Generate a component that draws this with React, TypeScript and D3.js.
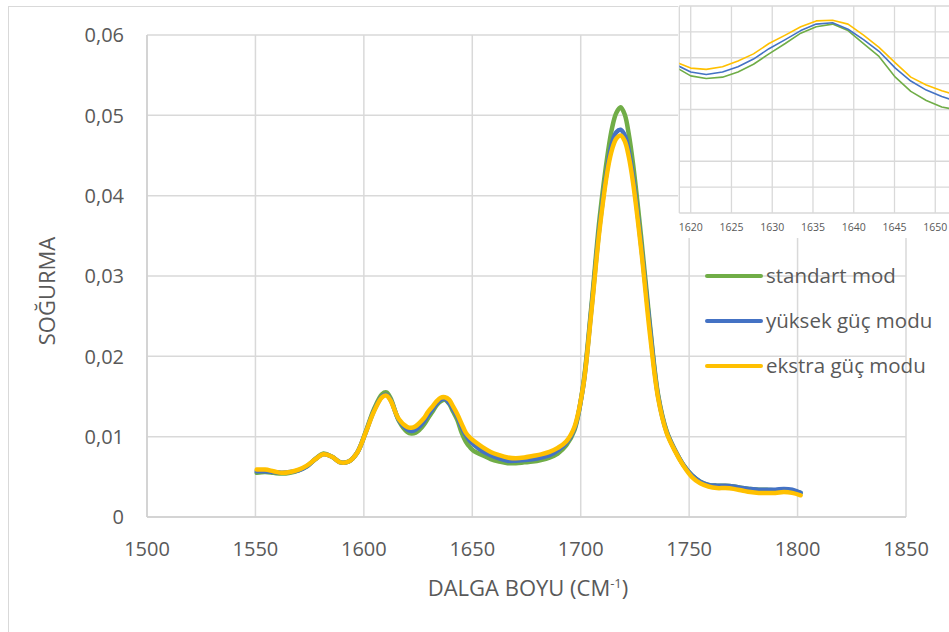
import React from "react";
import * as d3 from "d3";

// Wavenumber grid (cm-1) shared by all three spectra
const waves = [
  1550.6, 1554.4, 1558.3, 1562.1, 1566.0, 1569.9, 1573.7, 1577.6, 1581.4, 1585.3,
  1589.2, 1593.0, 1596.9, 1600.7, 1604.6, 1608.4, 1610.4, 1612.3, 1616.1,
  1620.0, 1621.9, 1623.9, 1625.8, 1627.7, 1629.6, 1631.6, 1633.5, 1635.4, 1637.4,
  1639.3, 1641.2, 1643.1, 1645.1, 1647.0, 1648.9, 1650.8,
  1654.7, 1658.5, 1662.4, 1666.3, 1670.1, 1674.0, 1677.8, 1681.7, 1685.6, 1689.4,
  1693.3, 1697.1, 1701.0, 1704.9, 1708.7, 1712.6, 1714.5, 1716.4, 1718.4, 1720.3,
  1722.2, 1724.2, 1728.0, 1731.9, 1735.7, 1739.6, 1743.5, 1747.3, 1751.2, 1755.1,
  1758.9, 1762.8, 1766.6, 1770.5, 1774.4, 1778.2, 1782.1, 1785.9, 1789.8, 1793.7,
  1797.5, 1801.4,
];

const standart = [
  0.0055, 0.0056, 0.0055, 0.0054, 0.0055, 0.0058, 0.0063, 0.0072, 0.0079, 0.0075,
  0.0068, 0.0069, 0.0080, 0.0105, 0.0134, 0.0153, 0.0155, 0.0148, 0.0120,
  0.0106, 0.0104, 0.0105, 0.0109, 0.0115, 0.0123, 0.0131, 0.0139, 0.0144, 0.0146,
  0.0141, 0.0131, 0.0121, 0.0105, 0.0094, 0.0087, 0.0082,
  0.0077, 0.0072, 0.0069, 0.0067, 0.0067, 0.0068, 0.0069, 0.0071, 0.0074, 0.0079,
  0.0089, 0.0108, 0.0162, 0.0262, 0.0372, 0.0455, 0.0485, 0.0503, 0.0510, 0.0501,
  0.0476, 0.0438, 0.0345, 0.0240, 0.0152, 0.0107, 0.0083, 0.0065, 0.0052, 0.0044,
  0.0040, 0.0039, 0.0039, 0.0038, 0.0036, 0.0035, 0.0034, 0.0034, 0.0033, 0.0034,
  0.0033, 0.0030,
];

const yuksek = [
  0.0057, 0.0057, 0.0056, 0.0055, 0.0056, 0.0058, 0.0063, 0.0072, 0.0078, 0.0075,
  0.0068, 0.0069, 0.0080, 0.0104, 0.0132, 0.0150, 0.0152, 0.0146, 0.0121,
  0.0109, 0.0107, 0.0109, 0.0113, 0.0119, 0.0127, 0.0134, 0.0141, 0.0146, 0.0147,
  0.0142, 0.0134, 0.0125, 0.0112, 0.0102, 0.0095, 0.0090,
  0.0082, 0.0077, 0.0073, 0.0070, 0.0070, 0.0071, 0.0072, 0.0074, 0.0077, 0.0083,
  0.0092, 0.0110, 0.0160, 0.0258, 0.0362, 0.0440, 0.0466, 0.0479, 0.0482, 0.0475,
  0.0455, 0.0422, 0.0335, 0.0236, 0.0150, 0.0106, 0.0083, 0.0065, 0.0052, 0.0044,
  0.0040, 0.0039, 0.0039, 0.0038, 0.0036, 0.0035, 0.0034, 0.0034, 0.0034, 0.0035,
  0.0034, 0.0030,
];

const ekstra = [
  0.0059, 0.0059, 0.0057, 0.0055, 0.0056, 0.0059, 0.0064, 0.0072, 0.0078, 0.0075,
  0.0068, 0.0069, 0.0080, 0.0104, 0.0131, 0.0149, 0.0151, 0.0145, 0.0122,
  0.0112, 0.0111, 0.0113, 0.01175, 0.0123, 0.0131, 0.01375, 0.0144, 0.01485, 0.0149,
  0.0146, 0.01375, 0.0128, 0.0116, 0.0105, 0.0099, 0.00945,
  0.0087, 0.0081, 0.0077, 0.0074, 0.0073, 0.0074, 0.0076, 0.0078, 0.0081, 0.0086,
  0.0094, 0.0112, 0.0160, 0.0255, 0.0358, 0.0435, 0.0458, 0.0471, 0.0475, 0.0468,
  0.0448, 0.0415, 0.0330, 0.0228, 0.0148, 0.0105, 0.0082, 0.0064, 0.0050, 0.0042,
  0.0038, 0.0036, 0.0036, 0.0035, 0.0033, 0.0031, 0.0030, 0.0030, 0.0030, 0.0031,
  0.0030, 0.0027,
];

const seriesNames = ["standart mod", "yüksek güç modu", "ekstra güç modu"];
const seriesColors = ["#70AD47", "#4472C4", "#FFC000"];
const seriesValues = [standart, yuksek, ekstra];

const xTicks = [1500, 1550, 1600, 1650, 1700, 1750, 1800, 1850];
const yTicks = [0, 0.01, 0.02, 0.03, 0.04, 0.05, 0.06];
const yTickLabels = ["0", "0,01", "0,02", "0,03", "0,04", "0,05", "0,06"];
const insetTicks = [1620, 1625, 1630, 1635, 1640, 1645, 1650];

const FONT = "'Open Sans', 'DejaVu Sans', sans-serif";
const TEXT = "#595959";
const GRID = "#d9d9d9";

export default function App() {
  const W = 949;
  const H = 632;

  const x = d3.scaleLinear().domain([1500, 1850]).range([147, 906]);
  const y = d3.scaleLinear().domain([0, 0.06]).range([517, 35]);

  const mainLine = d3
    .line<number>()
    .x((_, i) => x(waves[i]))
    .y((d) => y(d))
    .curve(d3.curveCatmullRom);

  // zoomed view of the 1620–1650 band
  const ix = d3.scaleLinear().domain([1618.6, 1651.6]).range([679.3, 948.3]);
  const iy = d3.scaleLinear().domain([0, 0.016]).range([213, 6]);
  const insetLine = d3
    .line<number>()
    .x((_, i) => ix(waves[i]))
    .y((d) => iy(d));
  const insetYTicks = iy.ticks(8);

  const legendY = [276, 321, 366];

  return (
    <svg
      width={W}
      height={H}
      style={{ position: "absolute", left: 0, top: 0, display: "block", background: "#fff" }}
      fontFamily={FONT}
    >
      <rect x={8.5} y={6.5} width={1000} height={700} fill="#fff" stroke={GRID} strokeWidth={1} />

      {/* grid */}
      {yTicks.map((t) => (
        <line key={"gy" + t} x1={147} x2={906} y1={y(t)} y2={y(t)} stroke={GRID} strokeWidth={1.5} />
      ))}
      {xTicks.map((t) => (
        <line key={"gx" + t} x1={x(t)} x2={x(t)} y1={y(0.06)} y2={y(0)} stroke={GRID} strokeWidth={1.5} />
      ))}
      <line x1={147} x2={906} y1={y(0)} y2={y(0)} stroke="#cfcfcf" strokeWidth={1.5} />
      <line x1={147} x2={147} y1={y(0.06)} y2={y(0)} stroke="#cfcfcf" strokeWidth={1.5} />

      {/* tick labels */}
      {yTicks.map((t, i) => (
        <text key={"ty" + t} x={124} y={y(t)} dy="0.36em" textAnchor="end" fontSize={20} fill={TEXT}>
          {yTickLabels[i]}
        </text>
      ))}
      {xTicks.map((t) => (
        <text key={"tx" + t} x={x(t)} y={556} textAnchor="middle" fontSize={20} fill={TEXT}>
          {t}
        </text>
      ))}

      {/* axis titles */}
      <text
        transform="translate(47,291) rotate(-90)"
        textAnchor="middle"
        dy="0.36em"
        fontSize={22}
        fill={TEXT}
      >
        SOĞURMA
      </text>
      <text x={528} y={596} textAnchor="middle" fontSize={22} fill={TEXT}>
        DALGA BOYU (CM<tspan fontSize={13} dy={-8}>-1</tspan>
        <tspan dy={8}>)</tspan>
      </text>

      {/* spectra */}
      {seriesValues.map((vals, k) => (
        <path
          key={"s" + k}
          d={mainLine(vals) || ""}
          fill="none"
          stroke={seriesColors[k]}
          strokeWidth={4.5}
          strokeLinejoin="round"
          strokeLinecap="round"
        />
      ))}

      {/* legend */}
      {seriesNames.map((n, k) => (
        <g key={"lg" + k}>
          <line x1={707} x2={761} y1={legendY[k]} y2={legendY[k]} stroke={seriesColors[k]} strokeWidth={4} strokeLinecap="round" />
          <text x={766} y={legendY[k] + 7} fontSize={20.5} fill={TEXT}>
            {n}
          </text>
        </g>
      ))}

      {/* inset */}
      <defs>
        <clipPath id="insetClip">
          <rect x={679.3} y={0} width={270} height={213} />
        </clipPath>
      </defs>
      <rect x={678} y={0} width={271} height={238} fill="#fff" />
      {insetYTicks.map((t) => (
        <line key={"iy" + t} x1={679.3} x2={949} y1={iy(t)} y2={iy(t)} stroke={GRID} strokeWidth={1.3} />
      ))}
      {insetTicks.map((t) => (
        <line key={"ix" + t} x1={ix(t)} x2={ix(t)} y1={iy(0.016)} y2={iy(0)} stroke={GRID} strokeWidth={1.3} />
      ))}
      <line x1={679.3} x2={679.3} y1={iy(0.016)} y2={iy(0)} stroke={GRID} strokeWidth={1.3} />
      <g clipPath="url(#insetClip)">
        {seriesValues.map((vals, k) => (
          <path
            key={"is" + k}
            d={insetLine(vals) || ""}
            fill="none"
            stroke={seriesColors[k]}
            strokeWidth={1.6}
            strokeLinejoin="round"
          />
        ))}
      </g>
      {insetTicks.map((t) => (
        <text key={"it" + t} x={ix(t)} y={231} textAnchor="middle" fontSize={10.5} fill={TEXT}>
          {t}
        </text>
      ))}
    </svg>
  );
}
